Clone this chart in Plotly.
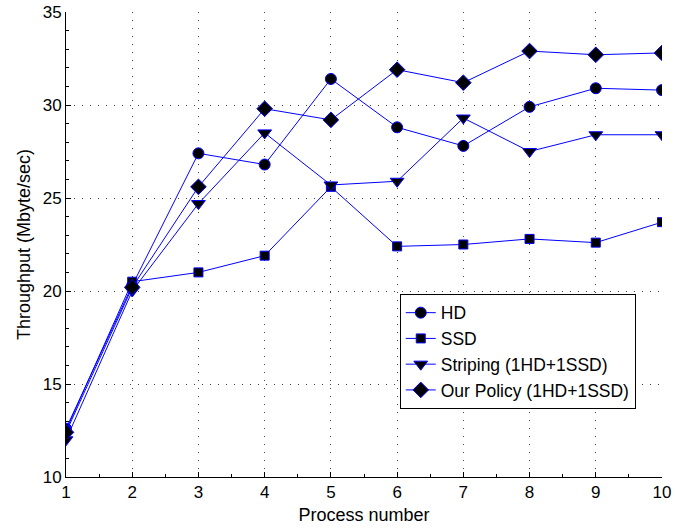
import plotly.graph_objects as go

x = [1, 2, 3, 4, 5, 6, 7, 8, 9, 10]
hd = [12.6, 20.3, 27.4, 26.8, 31.4, 28.8, 27.8, 29.9, 30.9, 30.8]
ssd = [12.5, 20.5, 21.0, 21.9, 25.6, 22.4, 22.5, 22.8, 22.6, 23.7]
striping = [12.0, 20.0, 24.7, 28.5, 25.7, 25.9, 29.3, 27.5, 28.4, 28.4]
policy = [12.4, 20.2, 25.6, 29.8, 29.2, 31.9, 31.2, 32.9, 32.7, 32.8]

series = [
    ("HD", hd, "circle", 11),
    ("SSD", ssd, "square", 9),
    ("Striping (1HD+1SSD)", striping, "triangle-down", 12),
    ("Our Policy (1HD+1SSD)", policy, "diamond", 12),
]

fam = "Liberation Sans, Arial, sans-serif"

fig = go.Figure()
for name, ys, sym, sz in series:
    fig.add_trace(go.Scatter(
        x=x, y=ys, name=name, mode="lines+markers",
        line=dict(color="#0000ff", width=1),
        marker=dict(symbol=sym, size=sz, color="black",
                    line=dict(color="#0000ff", width=1)),
    ))

fig.update_layout(
    width=675, height=529,
    margin=dict(l=66, r=13, t=12, b=52),
    paper_bgcolor="white", plot_bgcolor="white",
    font=dict(family=fam, size=17, color="black"),
    showlegend=True,
    legend=dict(x=0.56, y=0.394, xanchor="left", yanchor="top",
                bordercolor="black", borderwidth=1, bgcolor="white",
                font=dict(family=fam, size=17.5, color="black"),
                tracegroupgap=0),
)
grid = dict(showgrid=True, gridcolor="#444444", griddash="1px,7px", gridwidth=1,
            showline=True, linecolor="black", linewidth=1,
            ticks="inside", ticklen=5, tickcolor="black", zeroline=False,
            automargin=False, ticklabeloverflow="allow",
            tickfont=dict(family=fam, size=17, color="black"))
fig.update_xaxes(
    range=[1, 10], tickmode="array", tickvals=x,
    minor=dict(ticks="inside", ticklen=3, dtick=0.5, tickcolor="black", showgrid=False),
    title=dict(text="Process number", font=dict(family=fam, size=18), standoff=6),
    **grid,
)
fig.update_yaxes(
    range=[10, 35], tickmode="array", tickvals=[10, 15, 20, 25, 30, 35],
    minor=dict(ticks="inside", ticklen=3, dtick=1, tickcolor="black", showgrid=False),
    title=dict(text="Throughput (Mbyte/sec)", font=dict(family=fam, size=18), standoff=7),
    **grid,
)

fig.write_html("out.html", config={"displayModeBar": False},
               post_script="document.body.style.margin='0';")
